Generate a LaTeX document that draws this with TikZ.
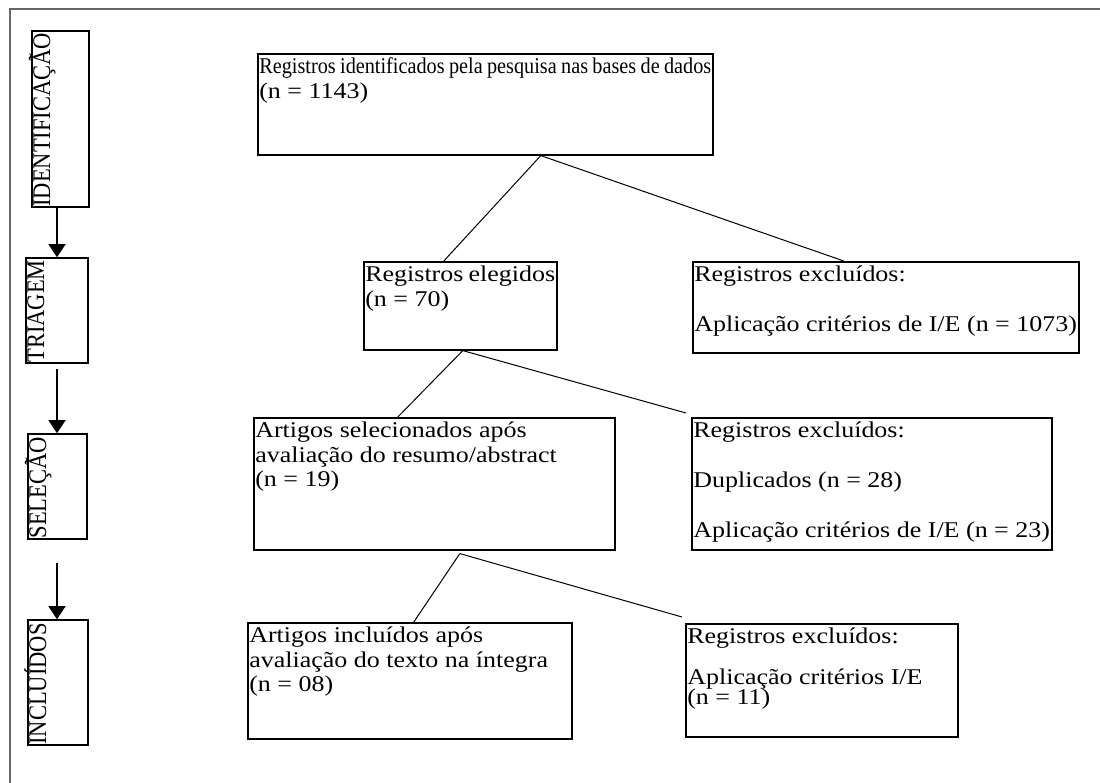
\documentclass[tikz,border=0pt]{standalone}
\usepackage{fontspec}
\setmainfont{Liberation Serif}[FakeStretch=1.155]
\newfontfamily\tightserif{Liberation Serif}[FakeStretch=0.9]
\newfontfamily\stageserif{Liberation Serif}
\usetikzlibrary{arrows.meta}

% text of a box, set at its top left corner
\newcommand{\boxtext}[3]{\parbox[c][#2][t]{#1}{\rule{0pt}{20pt}#3}}
\newcommand{\stagetext}[3]{\parbox[c][#2][t]{#1}{\rule{0pt}{17.5pt}\scalebox{1}[1.13]{\smash{#3}}}}
\newcommand{\gapline}{\\[25.5pt]}

\tikzset{
  regbox/.style={draw, line width=1.6pt, inner xsep=1.5pt, inner ysep=0pt,
    anchor=north west, font=\fontsize{22.5}{24.5}\selectfont},
  stagebox/.style={draw, line width=1.6pt, inner xsep=0.5pt, inner ysep=0.5pt,
    rotate=90, font=\stageserif\fontsize{22.5}{24}\selectfont},
  flowline/.style={line width=1pt},
  flowarrow/.style={line width=1.1pt, -{Triangle[width=17pt,length=13pt]}},
}

\begin{document}
\begin{tikzpicture}[x=1pt, y=-1pt]
  \useasboundingbox (0,0) rectangle (1100,783);
  % page frame
  \draw[black!60, line width=2pt] (10,783) -- (10,9.5) -- (1100,9.5);

  % stages on the left
  \node[stagebox] (ident) at (60.5,119) {\stagetext{175pt}{56pt}{IDENTIFICAÇÃO}};
  \node[stagebox] (triagem) at (57,310.5) {\stagetext{104pt}{61pt}{TRIAGEM}};
  \node[stagebox] (selecao) at (57.5,486.5) {\stagetext{104pt}{58pt}{SELEÇÃO}};
  \node[stagebox] (incluidos) at (58,682.5) {\stagetext{124pt}{59pt}{INCLUÍDOS}};

  \draw[flowarrow] ([xshift=-3.5pt]ident.west) -- ([xshift=-3.5pt]ident.west |- triagem.east);
  \draw[flowarrow, shorten <=5pt] (triagem.west) -- (triagem.west |- selecao.east);
  \draw[flowarrow, shorten <=23pt] ([xshift=-0.5pt]selecao.west) -- ([xshift=-0.5pt]selecao.west |- incluidos.east);

  % records
  \node[regbox] (reg) at (257,53) {\boxtext{452pt}{101pt}{{\tightserif Registros identificados pela pesquisa nas bases de dados}\\(n = 1143)}};
  \node[regbox] (eleg) at (363,261) {\boxtext{190pt}{88pt}{Registros elegidos\\(n = 70)}};
  \node[regbox] (exc1) at (692,261) {\boxtext{383pt}{91pt}{Registros excluídos:\gapline Aplicação critérios de I/E (n = 1073)}};
  \node[regbox] (sel) at (253,417) {\boxtext{358pt}{132pt}{Artigos selecionados após\\avaliação do resumo/abstract\\(n = 19)}};
  \node[regbox] (exc2) at (691,417) {\boxtext{357pt}{132pt}{Registros excluídos:\gapline Duplicados (n = 28)\gapline Aplicação critérios de I/E (n = 23)}};
  \node[regbox] (inc) at (247,622) {\boxtext{321pt}{116pt}{Artigos incluídos após\\avaliação do texto na íntegra\\(n = 08)}};
  \node[regbox] (exc3) at (685,623) {\boxtext{269pt}{113pt}{Registros excluídos:\\[16pt]Aplicação critérios I/E\\[-4pt](n = 11)}};

  % splits
  \coordinate (s1) at ([xshift=55.5pt]reg.south);
  \coordinate (s2) at ([xshift=2.5pt]eleg.south);
  \coordinate (s3) at ([shift={(25.5pt,-3pt)}]sel.south);
  \draw[flowline] (s1) -- ([xshift=-16.5pt]eleg.north);
  \draw[flowline] (s1) -- ([xshift=-42pt]exc1.north);
  \draw[flowline] (s2) -- ([xshift=-36.5pt]sel.north);
  \draw[flowline] (s2) -- ([shift={(-5pt,4pt)}]exc2.north west);
  \draw[flowline] (s3) -- ([xshift=4pt]inc.north);
  \draw[flowline] (s3) -- ([shift={(-3pt,6pt)}]exc3.north west);
\end{tikzpicture}
\end{document}
